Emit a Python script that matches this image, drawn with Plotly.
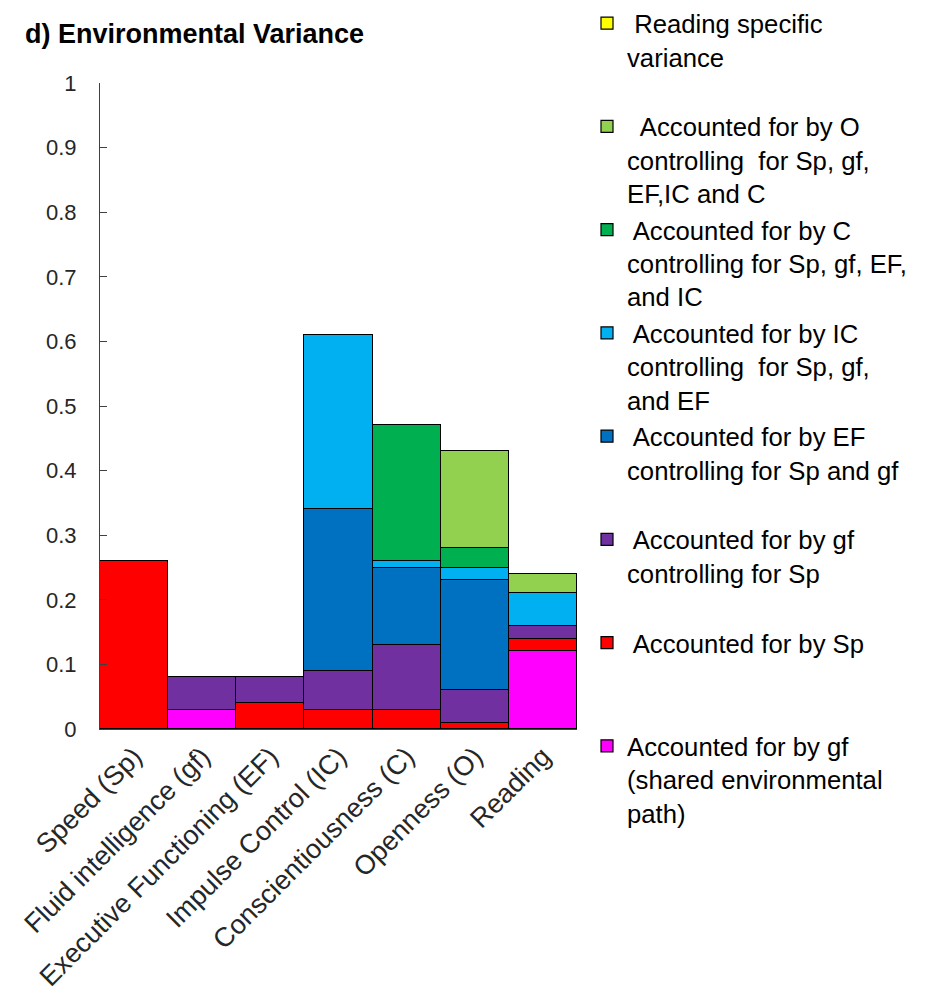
import plotly.graph_objects as go

categories = ["Speed (Sp)", "Fluid intelligence (gf)", "Executive Functioning (EF)",
              "Impulse Control (IC)", "Conscientiousness (C)", "Openness (O)", "Reading"]

# stacked from bottom to top
gf_shared = [None, 0.03, None, None, None, None, 0.12]
sp_vals = [0.26, None, 0.04, 0.03, 0.03, 0.01, 0.02]
gf_ctrl = [None, 0.05, 0.04, 0.06, 0.10, 0.05, 0.02]
ef_vals = [None, None, None, 0.25, 0.12, 0.17, None]
ic_vals = [None, None, None, 0.27, 0.01, 0.02, 0.05]
c_vals = [None, None, None, None, 0.21, 0.03, None]
o_vals = [None, None, None, None, None, 0.15, 0.03]
reading_specific = [None, None, None, None, None, None, None]

series = [
    (gf_shared, "#FF00FF", "Accounted for by gf<br>(shared environmental<br>path)"),
    (sp_vals, "#FF0000", " Accounted for by Sp<br> <br> "),
    (gf_ctrl, "#7030A0", " Accounted for by gf<br>controlling for Sp<br> "),
    (ef_vals, "#0070C0", " Accounted for by EF<br>controlling for Sp and gf<br> "),
    (ic_vals, "#00B0F0", " Accounted for by IC<br>controlling  for Sp, gf,<br>and EF"),
    (c_vals, "#00B050", " Accounted for by C<br>controlling for Sp, gf, EF,<br>and IC"),
    (o_vals, "#92D050", "  Accounted for by O<br>controlling  for Sp, gf,<br>EF,IC and C"),
    (reading_specific, "#FFFF00", " Reading specific<br>variance<br> "),
]

fig = go.Figure()
for vals, color, name in series:
    fig.add_trace(go.Bar(
        x=categories, y=vals, name=name,
        marker=dict(color=color, line=dict(color="#000000", width=1.2)),
    ))

FONT = "Liberation Sans, Arial, sans-serif"

fig.update_layout(
    width=926, height=994,
    barmode="stack", bargap=0,
    plot_bgcolor="white", paper_bgcolor="white",
    margin=dict(l=100, r=349, t=83, b=265),
    font=dict(family=FONT, color="#000000"),
    title=dict(text="<b>d) Environmental Variance</b>", x=25/926, xanchor="left",
               xref="container", y=1-34/994, yanchor="middle", yref="container",
               font=dict(size=27, family=FONT, color="#000000")),
    legend=dict(
        traceorder="reversed", valign="top",
        xref="container", yref="container",
        x=587/926, xanchor="left", y=1.016, yanchor="top",
        font=dict(size=25.7, family=FONT, color="#000000"),
        bgcolor="rgba(0,0,0,0)", itemwidth=30, maxheight=1000,
    ),
    xaxis=dict(
        range=[-0.5, 6.5], tickangle=-45, showline=True, linecolor="#404040",
        linewidth=1, ticks="", tickfont=dict(size=27, family=FONT, color="#262626"),
        showgrid=False, zeroline=False, automargin=False,
    ),
    yaxis=dict(
        range=[0, 1], tickvals=[0, 0.1, 0.2, 0.3, 0.4, 0.5, 0.6, 0.7, 0.8, 0.9, 1],
        ticktext=["0", "0.1", "0.2", "0.3", "0.4", "0.5", "0.6", "0.7", "0.8", "0.9", "1"],
        showline=True, linecolor="#404040", linewidth=1,
        ticks="inside", ticklen=7, tickcolor="#404040", ticklabelstandoff=18,
        tickfont=dict(size=22, family=FONT, color="#262626"),
        showgrid=False, zeroline=False, automargin=False,
    ),
)

fig.write_html("out.html", config={"displayModeBar": False},
               post_script="document.body.style.margin='0';")
